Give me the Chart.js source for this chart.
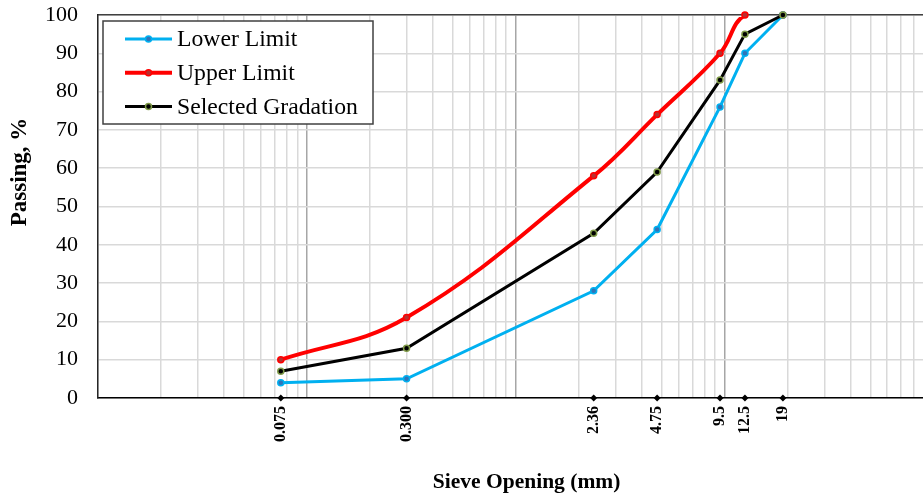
<!DOCTYPE html>
<html><head><meta charset="utf-8">
<script src="https://cdn.jsdelivr.net/npm/chart.js@4.4.1/dist/chart.umd.min.js"></script>
<style>html,body{margin:0;padding:0;background:#fff;overflow:hidden}</style>
</head><body><canvas id="c" width="923" height="497"></canvas>
<script>
// ---- data ----
const sieveSizes = [0.075, 0.3, 2.36, 4.75, 9.5, 12.5, 19];
const sieveLabels = ['0.075', '0.300', '2.36', '4.75', '9.5', '12.5', '19'];
const lowerLimit = [4, 5, 28, 44, 76, 90, 100];
const upperLimit = [10, 21, 58, 74, 90, 100, 100];
const selectedGradation = [7, 13, 43, 59, 83, 95, 100];
const seriesNames = ['Lower Limit', 'Upper Limit', 'Selected Gradation'];
const yTickValues = [0, 10, 20, 30, 40, 50, 60, 70, 80, 90, 100];
const gridDecades = [0.01, 0.1, 1, 10];
const gridMultipliers = [1, 2, 3, 4, 5, 6, 7, 8, 9];
const xMin = 0.01, xMax = 89;

const gridValues = [];
gridDecades.forEach(d => gridMultipliers.forEach(m => {
  const v = +(d * m).toPrecision(3);
  if (v >= xMin && v <= xMax) gridValues.push(v);
}));

const pts = arr => sieveSizes.map((x, i) => ({x: x, y: arr[i]}));

Chart.defaults.font.family = "'Liberation Serif', 'Times New Roman', serif";
Chart.defaults.color = '#000';

// legend entries: [line dataset index, marker dataset index]
const legendEntries = [[0, 0], [1, 3], [2, 2]];

const legendPlugin = {
  id: 'boxLegend',
  afterDraw(chart) {
    const ctx = chart.ctx;
    ctx.save();
    ctx.fillStyle = '#fff';
    ctx.strokeStyle = '#404040';
    ctx.lineWidth = 1.5;
    ctx.fillRect(103, 21, 270, 103);
    ctx.strokeRect(103, 21, 270, 103);
    legendEntries.forEach(([li, mi], i) => {
      const ds = chart.data.datasets[li];
      const mk = chart.data.datasets[mi];
      const y = 39 + i * 33.75;
      ctx.strokeStyle = ds.borderColor;
      ctx.lineWidth = ds.borderWidth;
      ctx.beginPath(); ctx.moveTo(125, y); ctx.lineTo(172, y); ctx.stroke();
      ctx.beginPath(); ctx.arc(148.5, y, mk.pointRadius, 0, Math.PI * 2);
      ctx.fillStyle = mk.pointBackgroundColor; ctx.fill();
      ctx.lineWidth = mk.pointBorderWidth; ctx.strokeStyle = mk.pointBorderColor; ctx.stroke();
      ctx.fillStyle = '#000';
      ctx.font = "23.7px 'Liberation Serif'";
      ctx.textBaseline = 'middle';
      ctx.textAlign = 'left';
      ctx.fillText(ds.label, 177, y + 1);
    });
    ctx.restore();
  }
};

const noPad = s => { s.paddingTop = 0; s.paddingBottom = 0; s.paddingLeft = 0; s.paddingRight = 0; };

new Chart(document.getElementById('c'), {
  type: 'line',
  data: {
    datasets: [
      {label: seriesNames[0], data: pts(lowerLimit), borderColor: '#00b0f0', borderWidth: 3,
       pointRadius: 3, pointBorderWidth: 1.5, pointBackgroundColor: '#2f74b8', pointBorderColor: '#00b0f0',
       tension: 0, clip: false, order: 2, xAxisID: 'x', yAxisID: 'y'},
      {label: seriesNames[1], data: pts(upperLimit), borderColor: '#ff0000', borderWidth: 4,
       pointRadius: 0, tension: 0.4,
       clip: {left: false, top: -2, right: false, bottom: false}, order: 4, xAxisID: 'x', yAxisID: 'y'},
      {label: seriesNames[2], data: pts(selectedGradation), borderColor: '#000000', borderWidth: 3,
       pointRadius: 3, pointBorderWidth: 1.5, pointBackgroundColor: '#000000', pointBorderColor: '#7f9a48',
       tension: 0, clip: false, order: 1, xAxisID: 'x', yAxisID: 'y'},
      {label: seriesNames[1] + ' markers', data: pts(upperLimit), showLine: false,
       pointRadius: 3, pointBorderWidth: 1.5, pointBackgroundColor: '#b83030', pointBorderColor: '#ff0000',
       clip: false, order: 3, xAxisID: 'x', yAxisID: 'y'},
      {label: 'sieve marks', data: sieveSizes.map(x => ({x: x, y: 0})), showLine: false,
       pointStyle: 'rectRot', pointRadius: 3.5, pointBackgroundColor: '#000', pointBorderColor: '#000',
       pointBorderWidth: 0, clip: false, order: 0, xAxisID: 'x', yAxisID: 'y'}
    ]
  },
  options: {
    responsive: false,
    animation: false,
    devicePixelRatio: 1,
    layout: {padding: 0, autoPadding: false},
    plugins: {legend: {display: false}, tooltip: {enabled: false}},
    scales: {
      xg: {
        type: 'logarithmic', position: 'top', min: xMin, max: xMax,
        afterBuildTicks: s => { s.ticks = gridValues.map(v => ({value: v})); },
        ticks: {display: false},
        grid: {drawTicks: false, lineWidth: 1.5,
               color: c => (gridDecades.indexOf(c.tick && c.tick.value) > 0 ? '#a6a6a6' : '#d9d9d9')},
        border: {color: '#404040', width: 1.5},
        afterFit: s => { s.height = 15; noPad(s); }
      },
      x: {
        type: 'logarithmic', position: 'bottom', min: xMin, max: xMax,
        afterBuildTicks: s => { s.ticks = sieveSizes.map(v => ({value: v})); },
        ticks: {autoSkip: false, minRotation: 90, maxRotation: 90, padding: 8,
                font: {size: 16, weight: 'bold'}, color: '#000',
                callback: (v, i) => sieveLabels[i]},
        grid: {drawOnChartArea: false, drawTicks: false},
        border: {color: '#000', width: 1.5},
        title: {display: true, text: '      Sieve Opening (mm)', font: {size: 21.5, weight: 'bold'},
                color: '#000', padding: {top: 0, bottom: 2}},
        afterFit: s => { s.height = 99; noPad(s); }
      },
      y: {
        type: 'linear', position: 'left', min: 0, max: 100,
        afterBuildTicks: s => { s.ticks = yTickValues.map(v => ({value: v})); },
        ticks: {font: {size: 22}, color: '#000', padding: 20},
        grid: {color: '#d9d9d9', lineWidth: 1.5, drawTicks: false},
        border: {color: '#262626', width: 1.5},
        title: {display: true, text: '            Passing, %', font: {size: 23, weight: 'bold'},
                color: '#000', padding: {top: 6, bottom: 0}},
        afterFit: s => { s.width = 98; noPad(s); }
      }
    }
  },
  plugins: [legendPlugin]
});
</script>
</body></html>
